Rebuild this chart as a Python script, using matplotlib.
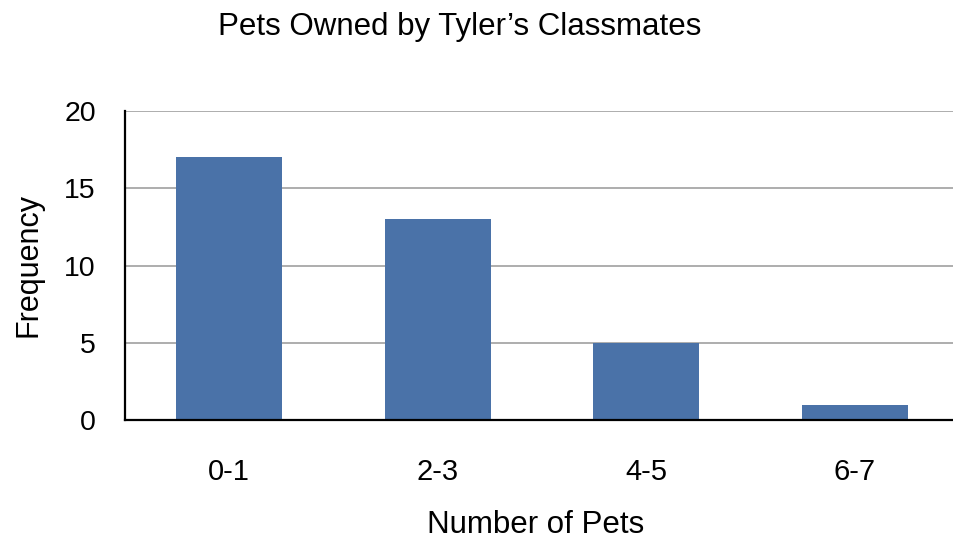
import matplotlib
matplotlib.use("Agg")
import matplotlib.pyplot as plt

categories = ["0-1", "2-3", "4-5", "6-7"]
frequency = [17, 13, 5, 1]
yticks = [0, 5, 10, 15, 20]

plt.rcParams['font.family'] = ['Liberation Sans', 'DejaVu Sans']

W, H = 954, 542
fig = plt.figure(figsize=(W / 100, H / 100), dpi=100)
ax = fig.add_axes([125 / W, 1 - 420 / H, 834 / W, 309 / H])

x = range(len(categories))
ax.bar(x, frequency, width=0.51, color="#4A72A8", zorder=3)
ax.set_xlim(-0.5, len(categories) - 0.5)
ax.set_ylim(0, 20)
ax.set_yticks(yticks)
ax.set_xticks(list(x))
ax.set_xticklabels(categories)
ax.yaxis.grid(True, color="#ADADAD", linewidth=1.4, zorder=0)
ax.set_axisbelow(True)

for s in ["top", "right"]:
    ax.spines[s].set_visible(False)
for s in ["left", "bottom"]:
    ax.spines[s].set_color("black")
    ax.spines[s].set_linewidth(1.6)
    ax.spines[s].set_zorder(4)

ax.tick_params(axis="y", length=0, pad=21, labelsize=20.5)
ax.tick_params(axis="x", length=0, pad=27, labelsize=21)

fig.text(536 / W, 1 - 533 / H, "Number of Pets", fontsize=22.5,
         ha="center", va="baseline")
fig.text(29 / W, 1 - 265 / H, "Frequency", fontsize=22, rotation=90,
         ha="center", va="center")
fig.text(460 / W, 1 - 34.5 / H, "Pets Owned by Tyler\u2019s Classmates",
         ha="center", va="baseline", fontsize=22.5)

fig.savefig("out.png", dpi=100)
